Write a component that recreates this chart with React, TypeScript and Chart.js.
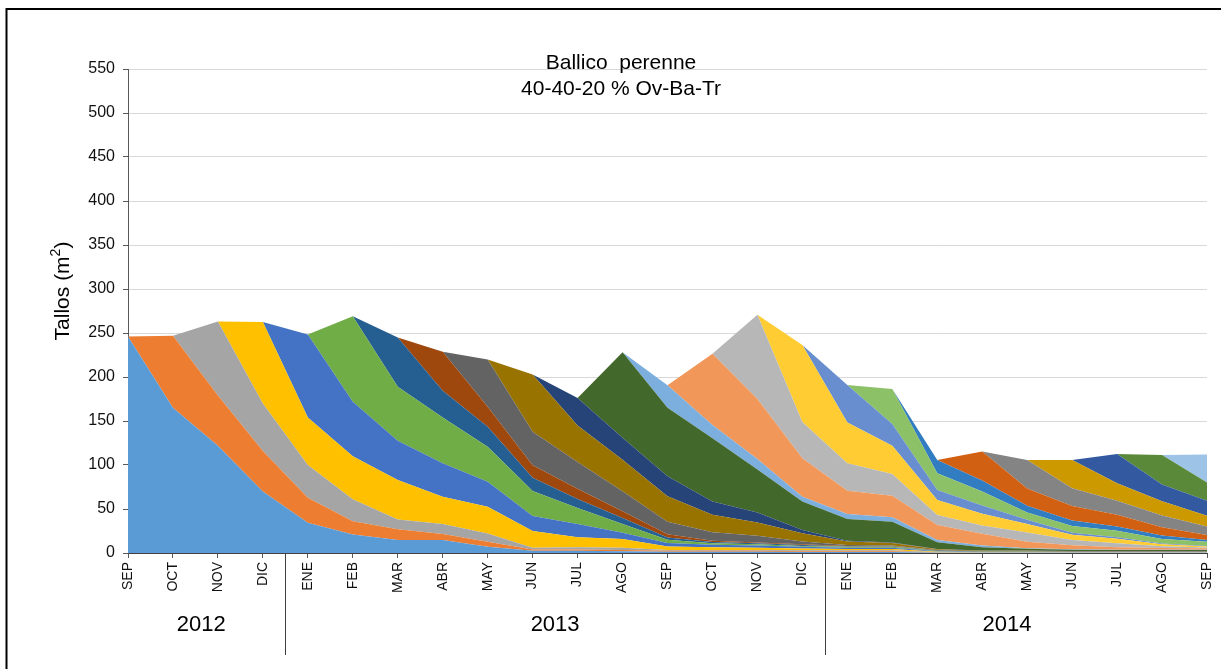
import React, { useEffect, useRef } from "react";
import { Chart, registerables } from "chart.js";

Chart.register(...registerables);

const months = [
  "SEP", "OCT", "NOV", "DIC", "ENE", "FEB", "MAR", "ABR", "MAY", "JUN", "JUL", "AGO",
  "SEP", "OCT", "NOV", "DIC", "ENE", "FEB", "MAR", "ABR", "MAY", "JUN", "JUL", "AGO", "SEP",
];
const years = ["2012", "2013", "2014"];

// Each cohort: values from its first month onward (zeros before)
const cSep12 = [246, 165, 122, 70, 34.5, 21, 14.8, 14.8, 7.2, 2.5, 2.5, 2, 1.5, 1.5, 1.5, 1, 1, 1, 0.3, 0.2, 0.2, 0.2, 0.2, 0.2, 0.2];
const cOct12 = [82, 57, 46, 28.4, 15, 12.2, 6.8, 5.7, 1.5, 1.5, 1.5, 1, 1, 1, 1, 1, 1, 0.3, 0.2, 0.2, 0.2, 0.2, 0.2, 0.2];
const cNov12 = [84, 54, 37, 25, 11, 11.4, 9.4, 2, 2.5, 2.5, 1, 1, 1, 1, 1, 1, 0.3, 0.2, 0.2, 0.2, 0.2, 0.2, 0.2];
const cDic12 = [92.5, 54, 49, 45, 31, 30.3, 19, 11.5, 10, 4, 3, 2.5, 2, 1.5, 1.5, 0.5, 0.3, 0.3, 0.2, 0.2, 0.2, 0.2];
const cEne13 = [94.5, 62, 44.6, 38, 28.4, 17, 15, 7, 4, 3, 2.5, 2, 1.5, 1.5, 0.5, 0.3, 0.3, 0.2, 0.2, 0.2, 0.2];
const cFeb13 = [97, 61.4, 52, 39.8, 28.4, 18, 10, 3.5, 1.5, 1.5, 1, 1, 1, 0.5, 0.3, 0.3, 0.2, 0.2, 0.2, 0.2];
const cMar13 = [56, 30.5, 22.8, 15, 10.4, 6.8, 2.6, 1.5, 1, 1, 0.5, 0.5, 0.3, 0.2, 0.2, 0.2, 0.2, 0.2, 0.2];
const cAbr13 = [44.3, 22.7, 14.3, 11.6, 7.6, 3.8, 1.5, 1, 1, 0.5, 0.5, 0.3, 0.2, 0.2, 0.2, 0.2, 0.2, 0.2];
const cMay13 = [53.7, 38, 30.4, 22.7, 14, 9.5, 7.5, 3, 1, 0.5, 0.3, 0.2, 0.2, 0.2, 0.2, 0.2, 0.2];
const cJun13 = [65, 41.6, 36, 29, 20, 15.2, 9.5, 4, 3, 1, 0.5, 0.5, 0.3, 0.3, 0.3, 0.3];
const cJul13 = [31, 25, 22.7, 15, 11.3, 3.7, 1, 0.5, 0.3, 0.2, 0.2, 0.2, 0.2, 0.2, 0.2];
const cAgo13 = [97, 78, 72, 49, 32.2, 24.6, 23.6, 7.5, 3.8, 2, 1.5, 1, 1, 1];
const cSep13 = [25.5, 15, 11.7, 5.6, 5.7, 4.9, 2.7, 1.9, 0.5, 0.5, 0.5, 0.5, 0.5];
const cOct13 = [81, 68.3, 43.7, 26.5, 24.5, 17, 13.3, 7.5, 4.5, 2.7, 2, 1.5];
const cNov13 = [95.7, 41.3, 31.1, 24.7, 11.3, 9.5, 10.6, 6.1, 4.5, 1.9, 1];
const cDic13 = [87.5, 46.5, 32.3, 17, 13.2, 9.5, 5.7, 5.3, 2.3, 1.2];
const cEne14 = [42.5, 24.6, 11.5, 9.4, 4.9, 2.5, 1.5, 0.7, 0.5];
const cFeb14 = [39.7, 18.9, 16, 8.3, 7.7, 7.6, 5.3, 4.9];
const cMar14 = [15.2, 12.5, 7.6, 6, 4.6, 3.8, 1.9];
const cAbr14 = [33, 19.7, 16.7, 13.6, 9.5, 5.7];
const cMay14 = [32.2, 20.1, 15.9, 13.2, 9.5];
const cJun14 = [32.2, 19.7, 16.3, 12.4];
const cJul14 = [33.4, 19, 17.1];
const cAgo14 = [33.7, 20.5];
const cSep14 = [32];

const cohorts = [
  cSep12, cOct12, cNov12, cDic12, cEne13, cFeb13, cMar13, cAbr13, cMay13, cJun13, cJul13, cAgo13,
  cSep13, cOct13, cNov13, cDic13, cEne14, cFeb14, cMar14, cAbr14, cMay14, cJun14, cJul14, cAgo14, cSep14,
];

const colors = [
  "#5B9BD5", "#ED7D31", "#A5A5A5", "#FFC000", "#4472C4", "#70AD47",
  "#255E91", "#9E480E", "#636363", "#997300", "#264478", "#43682B",
  "#7CAFDD", "#F1975A", "#B7B7B7", "#FFCD33", "#698ED0", "#8CC168",
  "#327DC2", "#D26012", "#848484", "#CC9A00", "#335AA1", "#5A8A39", "#9DC3E6",
];

const FONT = "'Liberation Sans', Arial, sans-serif";

const decorPlugin = {
  id: "decor",
  afterDraw(chart: any) {
    const ctx = chart.ctx;
    const x = chart.scales.x;
    const area = chart.chartArea;
    ctx.save();
    // outer frame
    ctx.strokeStyle = "#000";
    ctx.lineWidth = 2;
    ctx.beginPath();
    ctx.moveTo(6.5, 700);
    ctx.lineTo(6.5, 9);
    ctx.lineTo(1230, 9);
    ctx.stroke();

    // title
    ctx.fillStyle = "#000";
    ctx.textAlign = "center";
    ctx.textBaseline = "middle";
    ctx.font = `21px ${FONT}`;
    ctx.fillText("Ballico  perenne", 621, 63);
    ctx.fillText("40-40-20 % Ov-Ba-Tr", 621, 89);

    // y title
    ctx.save();
    ctx.translate(63, 291);
    ctx.rotate(-Math.PI / 2);
    const base = "Tallos (m";
    ctx.font = `21px ${FONT}`;
    const wBase = ctx.measureText(base).width;
    ctx.font = `14px ${FONT}`;
    const wSup = ctx.measureText("2").width;
    ctx.font = `21px ${FONT}`;
    const wEnd = ctx.measureText(")").width;
    const total = wBase + wSup + wEnd;
    let cx = -total / 2;
    ctx.textAlign = "left";
    ctx.fillText(base, cx, 0);
    cx += wBase;
    ctx.font = `14px ${FONT}`;
    ctx.fillText("2", cx, -7);
    cx += wSup;
    ctx.font = `21px ${FONT}`;
    ctx.fillText(")", cx, 0);
    ctx.restore();

    // year separators
    ctx.strokeStyle = "#404040";
    ctx.lineWidth = 1;
    [3.5, 15.5].forEach((v) => {
      const px = Math.round(x.getPixelForValue(v)) + 0.5;
      ctx.beginPath();
      ctx.moveTo(px, area.bottom);
      ctx.lineTo(px, 655);
      ctx.stroke();
    });

    // year labels
    ctx.font = `22px ${FONT}`;
    ctx.textAlign = "center";
    ctx.textBaseline = "middle";
    const centers = [1.63, 9.5, 19.55];
    years.forEach((yr, i) => {
      ctx.fillText(yr, x.getPixelForValue(centers[i]), 625);
    });
    ctx.restore();
  },
};

export default function App() {
  const ref = useRef<HTMLCanvasElement | null>(null);

  useEffect(() => {
    if (!ref.current) return;
    const datasets = cohorts.map((vals, i) => {
      const start = months.length - vals.length;
      const data = new Array(start).fill(0).concat(vals);
      return {
        label: `C${i + 1}`,
        data,
        backgroundColor: colors[i],
        borderColor: "rgba(0,0,0,0)",
        borderWidth: 0,
        pointRadius: 0,
        pointHoverRadius: 0,
        tension: 0,
        fill: i === 0 ? "origin" : "-1",
      };
    });

    const chart = new Chart(ref.current, {
      type: "line",
      data: { labels: months, datasets },
      options: {
        animation: false,
        responsive: false,
        devicePixelRatio: 1,
        layout: { padding: { left: 0, right: 14, top: 69, bottom: 0 } },
        plugins: {
          legend: { display: false },
          tooltip: { enabled: false },
          title: { display: false },
        },
        scales: {
          x: {
            type: "category",
            offset: false,
            grid: {
              drawOnChartArea: false,
              drawTicks: true,
              tickLength: 5,
              tickColor: "#595959",
            },
            border: { display: true, color: "#404040", width: 1 },
            ticks: {
              autoSkip: false,
              maxRotation: 90,
              minRotation: 90,
              padding: 4,
              color: "#111",
              font: { family: FONT, size: 14 },
            },
            afterFit: (scale: any) => {
              scale.height = 116;
              scale.paddingLeft = 0;
              scale.paddingRight = 0;
            },
          },
          y: {
            stacked: true,
            min: 0,
            max: 550,
            grid: {
              color: "#D9D9D9",
              lineWidth: 1,
              drawTicks: true,
              tickLength: 5,
              tickColor: "#595959",
            },
            border: { display: true, color: "#595959", width: 1 },
            ticks: {
              stepSize: 50,
              padding: 8,
              color: "#111",
              font: { family: FONT, size: 16 },
            },
            afterFit: (scale: any) => {
              scale.width = 128;
              scale.paddingTop = 0;
              scale.paddingBottom = 0;
            },
          },
        },
      },
      plugins: [decorPlugin],
    });
    return () => chart.destroy();
  }, []);

  return (
    <div
      style={{
        position: "fixed",
        left: 0,
        top: 0,
        width: 1221,
        height: 669,
        background: "#fff",
      }}
    >
      <canvas ref={ref} width={1221} height={669} style={{ width: 1221, height: 669 }} />
    </div>
  );
}
